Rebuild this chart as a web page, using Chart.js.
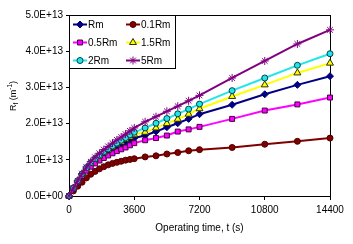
<!DOCTYPE html>
<html>
<head>
<meta charset="utf-8">
<script src="https://cdn.jsdelivr.net/npm/chart.js@4.4.1/dist/chart.umd.min.js"></script>
<style>
  html, body { margin: 0; padding: 0; background: #fff; }
</style>
</head>
<body>
<canvas id="chart" width="353" height="244"></canvas>
<script>
// Operating time (s)
const timeSec = [0, 240, 480, 720, 960, 1200, 1440, 1680, 1920, 2160, 2400, 2640, 2880, 3120, 3360, 3600,
                 4200, 4800, 5400, 6000, 6600, 7200, 9000, 10800, 12600, 14400]

// R_f in units of 1E+13 m^-1
const rfRm   = [0, 0.21, 0.41, 0.59, 0.75, 0.88, 0.98, 1.07, 1.15, 1.23, 1.30, 1.37, 1.43, 1.49, 1.55, 1.60,
                1.67, 1.78, 1.90, 2.01, 2.13, 2.26, 2.52, 2.81, 3.07, 3.31]
const rf01Rm = [0, 0.14, 0.27, 0.38, 0.50, 0.60, 0.68, 0.75, 0.81, 0.86, 0.90, 0.93, 0.96, 0.99, 1.01, 1.03,
                1.08, 1.11, 1.16, 1.20, 1.25, 1.28, 1.34, 1.43, 1.51, 1.60]
const rf05Rm = [0, 0.20, 0.38, 0.55, 0.70, 0.81, 0.90, 0.98, 1.05, 1.12, 1.18, 1.24, 1.29, 1.34, 1.40, 1.46,
                1.54, 1.60, 1.67, 1.78, 1.84, 1.91, 2.13, 2.36, 2.53, 2.72]
const rf15Rm = [0, 0.22, 0.42, 0.60, 0.77, 0.90, 1.01, 1.10, 1.19, 1.27, 1.34, 1.42, 1.49, 1.56, 1.63, 1.69,
                1.76, 1.88, 2.00, 2.12, 2.26, 2.41, 2.75, 3.07, 3.40, 3.67]
const rf2Rm  = [0, 0.22, 0.42, 0.61, 0.78, 0.92, 1.03, 1.13, 1.22, 1.30, 1.38, 1.46, 1.54, 1.61, 1.69, 1.76,
                1.88, 2.01, 2.14, 2.27, 2.40, 2.54, 2.91, 3.26, 3.61, 3.93]
const rf5Rm  = [0, 0.22, 0.42, 0.62, 0.80, 0.95, 1.07, 1.18, 1.28, 1.37, 1.46, 1.55, 1.63, 1.71, 1.80, 1.88,
                2.05, 2.19, 2.34, 2.48, 2.63, 2.78, 3.26, 3.73, 4.20, 4.59]

const seriesLabels = ['Rm', '0.1Rm', '0.5Rm', '1.5Rm', '2Rm', '5Rm']
const seriesValues = [rfRm, rf01Rm, rf05Rm, rf15Rm, rf2Rm, rf5Rm]

const xTickValues = [0, 3600, 7200, 10800, 14400]
const yTickLabels = ['0.0E+00', '1.0E+13', '2.0E+13', '3.0E+13', '4.0E+13', '5.0E+13']
const UNIT = 1e13

const FONT = 'Liberation Sans, Arial, sans-serif'

// line colour, marker style, marker fill/border, marker radius
const styles = [
  { line: '#000080', point: 'rectRot',  bg: '#000080', bd: '#000080', r: 3.5 },
  { line: '#800000', point: 'circle',   bg: '#800000', bd: '#500000', r: 3 },
  { line: '#FF00FF', point: 'rect',     bg: '#FF00FF', bd: '#400040', r: 3.5 },
  { line: '#FFFF00', point: 'triangle', bg: '#FFFF00', bd: '#303000', r: 4 },
  { line: '#22E6E6', point: 'circle',   bg: '#22E6E6', bd: '#004050', r: 3 },
  { line: '#800080', point: 'star',     bg: '#800080', bd: '#800080', r: 4 },
]

const datasets = seriesLabels.map((label, i) => ({
  label,
  data: timeSec.map((t, j) => ({ x: t, y: seriesValues[i][j] * UNIT })),
  borderColor: styles[i].line,
  borderWidth: 2,
  pointStyle: styles[i].point,
  pointRadius: styles[i].r,
  pointBackgroundColor: styles[i].bg,
  pointBorderColor: styles[i].bd,
  pointBorderWidth: 1,
  tension: 0,
  clip: false,
  order: seriesLabels.length - i,   // later series drawn on top, like Excel
}))

// black frame round the plot area
const framePlugin = {
  id: 'frame',
  beforeDatasetsDraw(chart) {
    const { ctx, chartArea: a } = chart
    ctx.save()
    ctx.strokeStyle = '#000'
    ctx.lineWidth = 1
    ctx.strokeRect(Math.round(a.left) + 0.5, Math.round(a.top) + 0.5,
                   Math.round(a.right - a.left), Math.round(a.bottom - a.top))
    ctx.restore()
  },
}

// y title with subscript / superscript
const yTitlePlugin = {
  id: 'yTitle',
  afterDraw(chart) {
    const ctx = chart.ctx
    const parts = [
      { t: 'R',   size: 9,   dy: 0 },
      { t: 'f',   size: 6.5, dy: 2 },
      { t: ' (m', size: 9,   dy: 0 },
      { t: '-1',  size: 6.5, dy: -4 },
      { t: ')',   size: 9,   dy: 0 },
    ]
    ctx.save()
    let w = 0
    for (const p of parts) {
      ctx.font = `${p.size}px ${FONT}`
      p.w = ctx.measureText(p.t).width
      w += p.w
    }
    ctx.translate(14, 96)
    ctx.rotate(-Math.PI / 2)
    ctx.fillStyle = '#000'
    ctx.textBaseline = 'middle'
    let x = -w / 2
    for (const p of parts) {
      ctx.font = `${p.size}px ${FONT}`
      ctx.fillText(p.t, x, p.dy)
      x += p.w
    }
    ctx.restore()
  },
}

// boxed legend inside the top-left corner of the plot
const legendPlugin = {
  id: 'boxLegend',
  afterDraw(chart) {
    const { ctx, chartArea: a } = chart
    const boxW = 106, boxH = 53
    const x0 = Math.round(a.left) + 0.5, y0 = Math.round(a.top) + 0.5
    ctx.save()
    ctx.fillStyle = '#fff'
    ctx.fillRect(x0, y0, boxW, boxH)
    ctx.strokeStyle = '#000'
    ctx.lineWidth = 1
    ctx.strokeRect(x0, y0, boxW, boxH)
    ctx.font = `10px ${FONT}`
    ctx.textBaseline = 'middle'
    chart.data.datasets.forEach((ds, i) => {
      const col = i % 2, row = Math.floor(i / 2)
      const lx = a.left + 4 + col * 53
      const ly = a.top + 9.5 + row * 18
      ctx.strokeStyle = ds.borderColor
      ctx.lineWidth = 2
      ctx.beginPath()
      ctx.moveTo(lx, ly)
      ctx.lineTo(lx + 14, ly)
      ctx.stroke()
      ctx.fillStyle = ds.pointBackgroundColor
      ctx.strokeStyle = ds.pointBorderColor
      ctx.lineWidth = 1
      Chart.helpers.drawPoint(ctx, { pointStyle: ds.pointStyle, radius: ds.pointRadius, rotation: 0, borderWidth: 1 }, lx + 7, ly)
      ctx.fillStyle = '#000'
      ctx.fillText(ds.label, lx + 15, ly + 0.5)
    })
    ctx.restore()
  },
}

new Chart(document.getElementById('chart'), {
  type: 'line',
  data: { datasets },
  plugins: [framePlugin, yTitlePlugin, legendPlugin],
  options: {
    responsive: false,
    animation: false,
    events: [],
    layout: { padding: { left: 0, top: 15, right: 23, bottom: 0 } },
    plugins: { legend: { display: false }, tooltip: { enabled: false } },
    scales: {
      x: {
        type: 'linear',
        min: 0,
        max: 14400,
        afterBuildTicks: s => { s.ticks = xTickValues.map(v => ({ value: v })) },
        afterFit: s => { s.height = 48 },
        ticks: { color: '#000', font: { family: FONT, size: 10 }, padding: 4, maxRotation: 0,
                 callback: v => String(v) },
        grid: { display: true, drawOnChartArea: false, drawTicks: true, tickLength: 4, color: '#000' },
        border: { display: true, color: '#000', width: 1 },
        title: { display: true, text: 'Operating time, t (s)', color: '#000',
                 font: { family: FONT, size: 10 }, padding: { top: 0, bottom: 10 } },
      },
      y: {
        min: 0,
        max: 5 * UNIT,
        ticks: { stepSize: UNIT, color: '#000', font: { family: FONT, size: 10 }, padding: 3,
                 callback: (v, i) => yTickLabels[i] },
        afterFit: s => { s.width = 69 },
        grid: { display: true, drawOnChartArea: false, drawTicks: true, tickLength: 3, color: '#000' },
        border: { display: true, color: '#000', width: 1 },
      },
    },
  },
})
</script>
</body>
</html>
